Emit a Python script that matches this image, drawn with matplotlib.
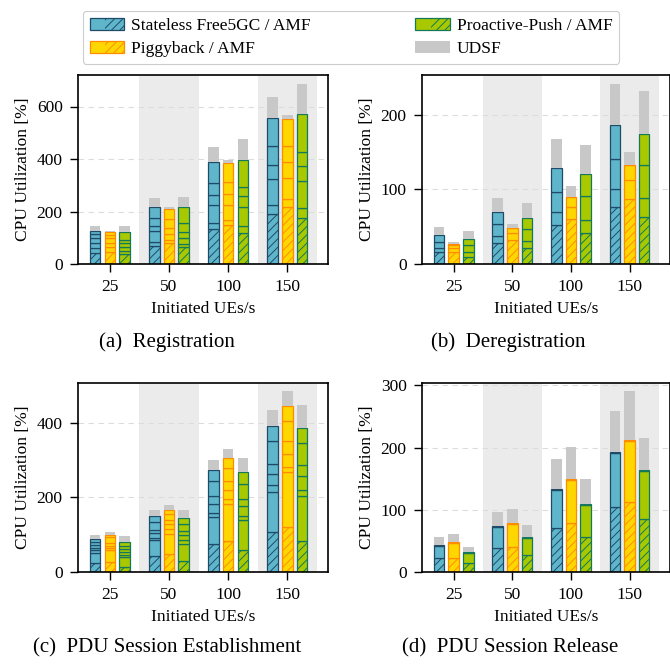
import matplotlib
matplotlib.use("Agg")
import matplotlib.pyplot as plt
from matplotlib.patches import Patch, Rectangle
import numpy as np

plt.rcParams['font.family'] = ['Liberation Serif', 'DejaVu Serif']
plt.rcParams['font.size'] = 12.5
plt.rcParams['hatch.linewidth'] = 0.7

groups = ['25', '50', '100', '150']
variants = ['Stateless Free5GC', 'Piggyback', 'Proactive-Push']

# ---- (a) Registration: segment values (AMF first, then other NFs) ----
reg_stateless = [[43, 17, 20, 18, 17, 10], [70, 15, 42, 19, 28, 45],
                 [132, 23, 69, 38, 48, 79], [190, 34, 99, 56, 70, 106]]
reg_piggyback = [[44, 22, 15, 17, 12, 13], [79, 12, 24, 23, 32, 40],
                 [148, 20, 57, 43, 45, 73], [217, 31, 78, 61, 64, 100]]
reg_proactive = [[40, 11, 15, 15, 10, 31], [63, 12, 23, 25, 32, 62],
                 [120, 25, 73, 41, 35, 104], [177, 37, 103, 56, 52, 148]]
reg_udsf = [[21, 4, 24], [31, 7, 39], [55, 11, 77], [81, 16, 114]]

# ---- (b) Deregistration ----
dereg_stateless = [[16, 5, 8, 10], [28, 10, 15, 17], [52, 17, 28, 32], [76, 25, 40, 45]]
dereg_piggyback = [[16, 5, 4, 2], [32, 9, 7, 0], [60, 16, 14, 0], [87, 26, 20, 0]]
dereg_proactive = [[10, 6, 9, 8], [21, 10, 16, 15], [42, 17, 32, 29], [63, 25, 45, 41]]
dereg_udsf = [[10, 3, 11], [19, 6, 20], [38, 14, 39], [55, 17, 57]]

# ---- (c) PDU Session Establishment ----
est_stateless = [[25, 27, 6, 7, 7, 8, 9], [42, 43, 7, 13, 7, 22, 16],
                 [74, 74, 10, 25, 20, 40, 30], [106, 109, 18, 31, 25, 62, 40]]
est_piggyback = [[27, 33, 5, 5, 9, 15, 6], [47, 56, 13, 12, 12, 15, 12],
                 [83, 100, 12, 24, 24, 37, 27], [120, 148, 14, 34, 35, 53, 42]]
est_proactive = [[13, 27, 5, 9, 9, 7, 11], [30, 46, 9, 13, 12, 18, 17],
                 [58, 81, 11, 27, 20, 40, 30], [83, 120, 16, 38, 29, 59, 42]]
est_udsf = [[9, 7, 15], [16, 13, 21], [27, 24, 39], [43, 39, 60]]

# ---- (d) PDU Session Release ----
rel_stateless = [[23, 19.5, 1.5], [39, 33.5, 1.5], [71.5, 61, 1.5], [104, 87.5, 1.5]]
rel_piggyback = [[23, 23, 1.5], [41, 36, 1.5], [79, 68.5, 1.5], [113, 97.5, 1.5]]
rel_proactive = [[14.5, 15.5, 1.5], [28, 27, 1.5], [56, 52.5, 1.5], [85, 77.5, 1.5]]
rel_udsf = [[12, 13.5, 9.5], [22, 23.5, 18.5], [48, 52, 39.5], [66, 79, 52]]

captions = ['(a)  Registration', '(b)  Deregistration',
            '(c)  PDU Session Establishment', '(d)  PDU Session Release']
ylims = [720, 253, 507, 304]
yticks = [[0, 200, 400, 600], [0, 100, 200], [0, 200, 400], [0, 100, 200, 300]]

face = ['#5fb6cb', '#ffd700', '#a8c800']
edge = ['#1f4a68', '#ff8c00', '#14785a']
udsf_color = '#c8c8c8'

panels = [
    (reg_stateless, reg_piggyback, reg_proactive, reg_udsf),
    (dereg_stateless, dereg_piggyback, dereg_proactive, dereg_udsf),
    (est_stateless, est_piggyback, est_proactive, est_udsf),
    (rel_stateless, rel_piggyback, rel_proactive, rel_udsf),
]

W, H = 670, 664
fig = plt.figure(figsize=(W / 100, H / 100), dpi=100)
axpos = [(78, 75, 250, 189), (422, 75, 248, 189),
         (78, 383, 250, 189), (422, 383, 248, 189)]
cap_x = [167, 508, 167, 510]
cap_y = [342, 342, 648, 648]

x = np.arange(len(groups))
offsets = [-0.25, 0.0, 0.25]
bw = 0.18

for k, (pos, data) in enumerate(zip(axpos, panels)):
    l, t, w, h = pos
    ax = fig.add_axes([l / W, 1 - (t + h) / H, w / W, h / H])
    ax.set_xlim(-0.54, 3.69)
    ax.set_ylim(0, ylims[k])
    for g in (1, 3):
        ax.axvspan(g - 0.5, g + 0.5, color='#ebebeb', zorder=0, lw=0)
    ax.set_yticks(yticks[k])
    ax.yaxis.grid(True, linestyle=(0, (5, 4)), color='#dcdcdc', linewidth=0.8, zorder=0.5)
    ax.set_axisbelow(True)
    udsf = data[3]
    for v in range(3):
        segs = data[v]
        for gi in range(len(groups)):
            bottom = 0.0
            for si, val in enumerate(segs[gi]):
                ax.bar(x[gi] + offsets[v], val, bw, bottom=bottom,
                       color=face[v], edgecolor=edge[v], linewidth=0.9,
                       hatch='////' if si == 0 else None, zorder=2)
                bottom += val
            ax.bar(x[gi] + offsets[v], udsf[gi][v], bw, bottom=bottom,
                   color=udsf_color, edgecolor='none', linewidth=0, zorder=2)
    ax.set_xticks(x)
    ax.set_xticklabels(groups)
    ax.tick_params(direction='out', length=6, width=1.0, pad=5)
    for sp in ax.spines.values():
        sp.set_linewidth(1.2)
    ax.set_xlabel('Initiated UEs/s')
    ax.set_ylabel('CPU Utilization [%]')
    fig.text(cap_x[k] / W, 1 - cap_y[k] / H, captions[k], ha='center', va='center',
             fontsize=15)


class HalfHatchHandler:
    def __init__(self, fc, ec):
        self.fc, self.ec = fc, ec

    def legend_artist(self, legend, orig_handle, fontsize, handlebox):
        x0, y0 = handlebox.xdescent, handlebox.ydescent
        w, h = handlebox.width, handlebox.height
        base = Rectangle((x0, y0), w, h, facecolor=self.fc, edgecolor=self.ec,
                         linewidth=0.9, transform=handlebox.get_transform())
        hat = Rectangle((x0 + w * 0.45, y0), w * 0.55, h, facecolor='none',
                        edgecolor=self.ec, linewidth=0, hatch='////',
                        transform=handlebox.get_transform())
        handlebox.add_artist(base)
        handlebox.add_artist(hat)
        return base


handles = [Patch(facecolor=face[v], edgecolor=edge[v]) for v in range(3)]
udsf_handle = Patch(facecolor=udsf_color, edgecolor='none')
handles.append(udsf_handle)
labels = ['Stateless Free5GC / AMF', 'Piggyback / AMF', 'Proactive-Push / AMF', 'UDSF']
hmap = {handles[v]: HalfHatchHandler(face[v], edge[v]) for v in range(3)}
leg = fig.legend(handles, labels,
                 loc='upper center', bbox_to_anchor=(0.524, 0.997), ncol=2,
                 handler_map=hmap,
                 handlelength=2.0, handletextpad=0.4, columnspacing=6.0,
                 fancybox=True, framealpha=1, edgecolor='#cccccc',
                 borderpad=0.4, labelspacing=0.4)
leg.get_frame().set_linewidth(0.8)

fig.savefig('out.png', dpi=100)
